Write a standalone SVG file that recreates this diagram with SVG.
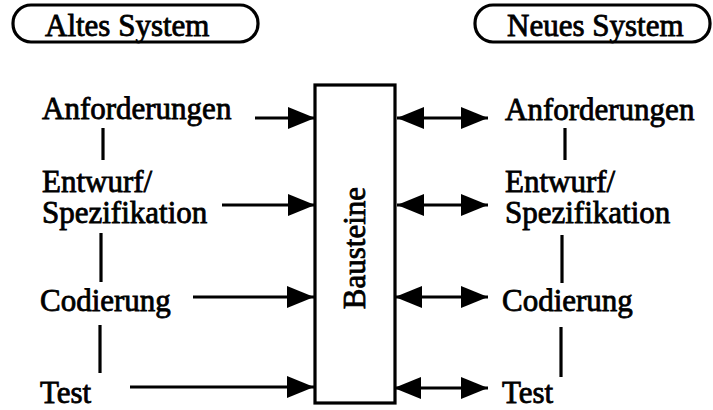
<svg xmlns="http://www.w3.org/2000/svg" width="713" height="410" viewBox="0 0 713 410">
<style>
text{font-family:"Liberation Serif","Times New Roman",serif;font-size:31px;fill:#000;stroke:#000;stroke-width:0.8}
.ln{stroke:#000;stroke-width:3.2;fill:none}
.box{stroke:#000;stroke-width:3.2;fill:#fff}
</style>
<defs>
<marker id="ah" viewBox="0 0 27 22" refX="27" refY="11" markerWidth="27" markerHeight="22" markerUnits="userSpaceOnUse" orient="auto-start-reverse">
<path d="M0,0 L27,11 L0,22 Z" fill="#000"/>
</marker>
</defs>
<rect width="713" height="410" fill="#fff"/>
<g id="altes">
<rect class="box" x="13" y="5" width="245" height="37" rx="18"/>
<text x="45" y="36">Altes System</text>
</g>
<g id="neues">
<rect class="box" x="475" y="5" width="235" height="37" rx="18"/>
<text x="507" y="36">Neues System</text>
</g>
<g id="bausteine">
<rect class="box" x="315" y="85" width="80" height="318"/>
<text transform="translate(365,248) rotate(-90)" text-anchor="middle">Bausteine</text>
</g>
<g id="alt-anf"><text x="42" y="119">Anforderungen</text></g>
<g id="alt-entw"><text x="42" y="192">Entwurf/</text><text x="42" y="223">Spezifikation</text></g>
<g id="alt-cod"><text x="40" y="311">Codierung</text></g>
<g id="alt-test"><text x="40" y="403">Test</text></g>
<g id="neu-anf"><text x="505" y="120">Anforderungen</text></g>
<g id="neu-entw"><text x="505" y="192">Entwurf/</text><text x="505" y="223">Spezifikation</text></g>
<g id="neu-cod"><text x="502" y="311">Codierung</text></g>
<g id="neu-test"><text x="502" y="403">Test</text></g>
<g id="connectors">
<line class="ln" x1="103" y1="128" x2="103" y2="160"/>
<line class="ln" x1="101" y1="233" x2="101" y2="282"/>
<line class="ln" x1="100" y1="325" x2="100" y2="373"/>
<line class="ln" x1="565" y1="128" x2="565" y2="160"/>
<line class="ln" x1="562" y1="235" x2="562" y2="283"/>
<line class="ln" x1="561" y1="327" x2="561" y2="377"/>
<line class="ln" x1="255" y1="118" x2="315" y2="118" marker-end="url(#ah)"/>
<line class="ln" x1="222" y1="205" x2="315" y2="205" marker-end="url(#ah)"/>
<line class="ln" x1="193" y1="297" x2="314" y2="297" marker-end="url(#ah)"/>
<line class="ln" x1="130" y1="387" x2="314" y2="387" marker-end="url(#ah)"/>
<line class="ln" x1="397" y1="118" x2="488" y2="118" marker-start="url(#ah)" marker-end="url(#ah)"/>
<line class="ln" x1="397" y1="205" x2="488" y2="205" marker-start="url(#ah)" marker-end="url(#ah)"/>
<line class="ln" x1="395" y1="297" x2="488" y2="297" marker-start="url(#ah)" marker-end="url(#ah)"/>
<line class="ln" x1="394" y1="388" x2="488" y2="388" marker-start="url(#ah)" marker-end="url(#ah)"/>
</g>
</svg>
